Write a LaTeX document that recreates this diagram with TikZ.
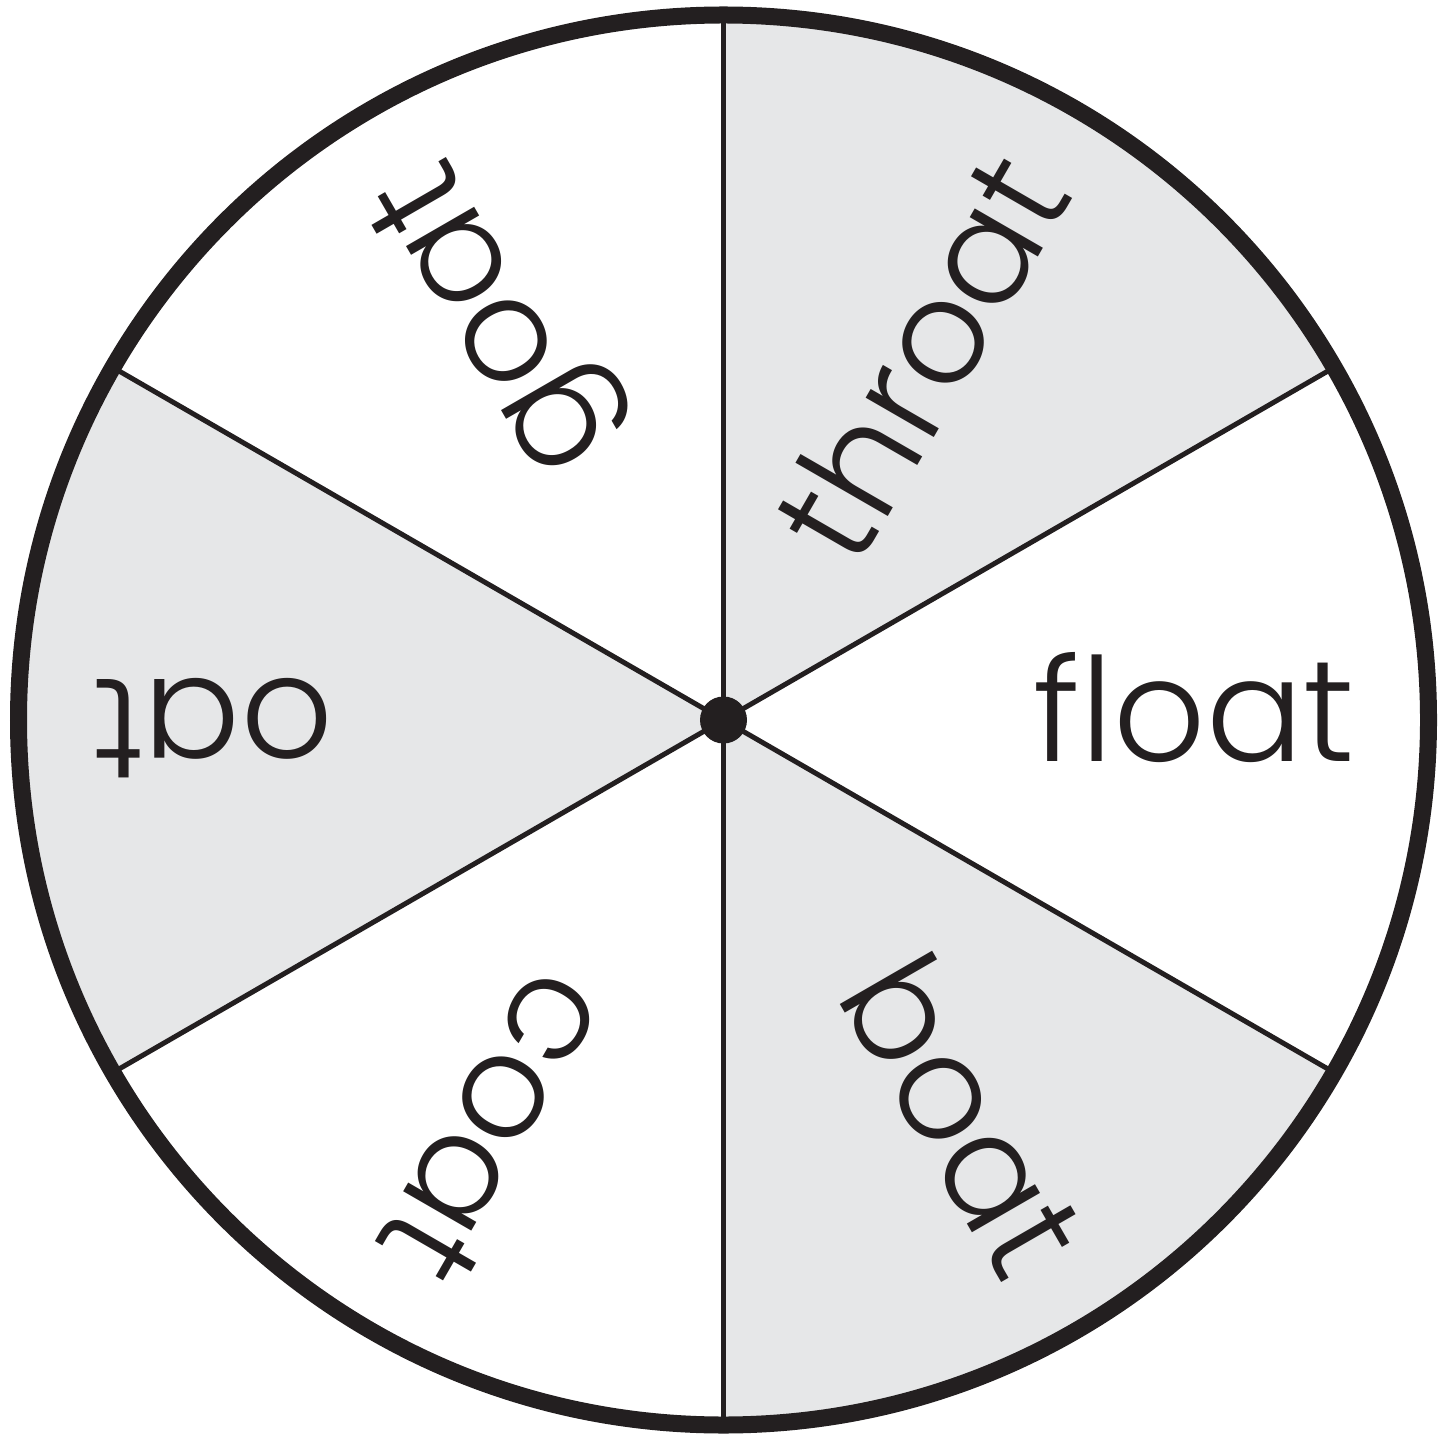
\documentclass[tikz,border=0pt]{standalone}
\usepackage{fontspec}
\newfontfamily\wordfont{Poppins Light}
\usetikzlibrary{positioning,calc}
\definecolor{wheelgray}{RGB}{230,231,232}
\definecolor{wheelink}{RGB}{35,31,32}

\begin{document}
\begin{tikzpicture}[font=\wordfont\fontsize{41}{48}\selectfont,
  word/.style={anchor=base east, inner sep=0pt, text=wheelink}]
  \useasboundingbox (0,0) rectangle (14.53,14.37);
  \coordinate (hub) at (7.235,7.17);

  \fill[wheelgray] (hub) -- ++(30:7.05) arc[start angle=30, end angle=90, radius=7.05] -- cycle;
  \fill[wheelgray] (hub) -- ++(150:7.05) arc[start angle=150, end angle=210, radius=7.05] -- cycle;
  \fill[wheelgray] (hub) -- ++(270:7.05) arc[start angle=270, end angle=330, radius=7.05] -- cycle;

  \foreach \a in {30,90,...,330}
    \draw[wheelink, line width=0.05cm] (hub) -- ++(\a:7.05);
  \draw[wheelink, line width=0.17cm] (hub) circle[radius=7.05];
  \fill[wheelink] (hub) circle[radius=0.235];

  \node[word, rotate=0] (float) at ($(hub)+(0:6.32)+(-90:0.41)$) {float};
  \node[word, rotate=60] (throat) at ($(hub)+(60:6.32)+(-30:0.41)$) {throat};
  \node[word, rotate=120] (goat) at ($(hub)+(120:6.32)+(30:0.41)$) {goat};
  \node[word, rotate=180] (oat) at ($(hub)+(180:6.32)+(90:0.41)$) {oat};
  \node[word, rotate=240] (coat) at ($(hub)+(240:6.32)+(150:0.41)$) {coat};
  \node[word, rotate=300] (boat) at ($(hub)+(300:6.32)+(210:0.41)$) {boat};
\end{tikzpicture}
\end{document}
